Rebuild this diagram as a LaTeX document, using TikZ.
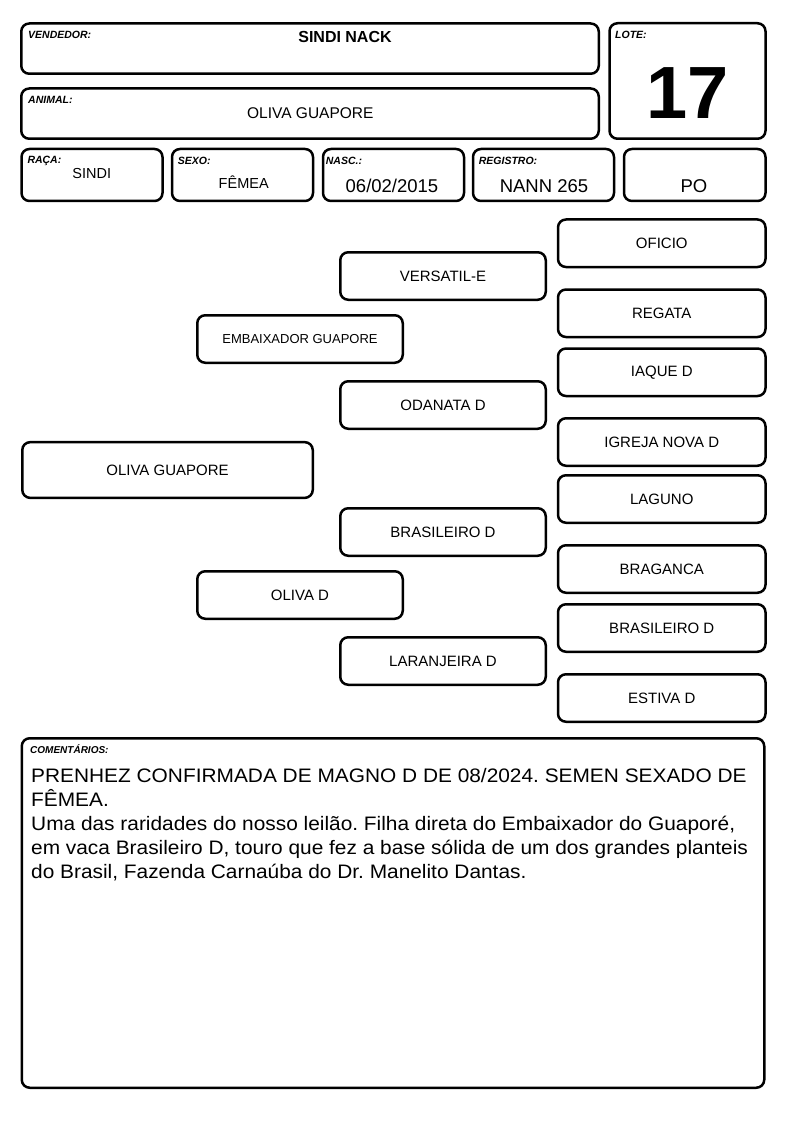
\documentclass[tikz,border=0pt]{standalone}
\usepackage{fontspec}
\setmainfont{Liberation Sans}
\newfontfamily\cmtfont{Liberation Sans}[FakeStretch=1.07]
\newcommand{\fs}[1]{\fontsize{#1}{#1}\selectfont}
\frenchspacing
\tikzset{
  field/.style={draw, line width=2.5pt, rounded corners=8pt, outer sep=0pt, inner sep=0pt, anchor=north west},
  tag/.style={anchor=base west, inner sep=0pt, font=\fs{10.5}\bfseries\itshape},
  val/.style={anchor=base, inner sep=0pt, font=\fs{18.5}},
  ped/.style={draw, line width=2.5pt, rounded corners=8pt, inner sep=0pt, minimum width=205.5pt, minimum height=47.5pt, font=\fs{15}},
  pedr/.style={ped, minimum width=207.5pt},
}
\begin{document}
\begin{tikzpicture}[x=1pt,y=-1pt]
\useasboundingbox (0,0) rectangle (794,1123);
% header fields
\node[field, minimum width=577.5pt, minimum height=50.25pt] (vendedor) at (21.25,23.5) {};
\node[field, minimum width=577.5pt, minimum height=50.25pt] (animal) at (21.25,88.5) {};
\node[field, minimum width=156pt, minimum height=115.5pt] (lote) at (609.5,23.25) {};
\node[field, minimum width=141pt, minimum height=52pt] (raca) at (21.5,149) {};
\node[field, minimum width=141pt, minimum height=52pt] (sexo) at (172,149) {};
\node[field, minimum width=141pt, minimum height=52pt] (nasc) at (323,149) {};
\node[field, minimum width=141pt, minimum height=52pt] (registro) at (473,149) {};
\node[field, minimum width=141.5pt, minimum height=52pt] (po) at (624,149) {};
\node[tag] (tvendedor) at (28,39) {VENDEDOR:};
\node[tag] (tanimal) at (28,103.7) {ANIMAL:};
\node[tag] (tlote) at (615,39) {LOTE:};
\node[tag] (traca) at (27.3,163.3) {RAÇA:};
\node[tag] (tsexo) at (177.7,165) {SEXO:};
\node[tag] (tnasc) at (325.7,165) {NASC.:};
\node[tag] (tregistro) at (478.7,165) {REGISTRO:};
\node[val, font=\fs{16}\bfseries] (vvendedor) at (345,42.7) {SINDI NACK};
\node[val, font=\fs{15.5}] (vanimal) at (310.3,119) {OLIVA GUAPORE};
\node[val, font=\fs{74}\bfseries] (vlote) at (687.5,118.3) {17};
\node[val, font=\fs{14.5}] (vraca) at (91.7,178.3) {SINDI};
\node[val, font=\fs{14.5}] (vsexo) at (243.7,189) {FÊMEA};
\node[val] (vnasc) at (392,192.3) {06/02/2015};
\node[val] (vregistro) at (544,192.3) {NANN 265};
\node[val] (vpo) at (694,192.3) {PO};
% pedigree
\node[ped, minimum width=290.5pt, minimum height=55.75pt] (g1) at (167.5,470) {OLIVA GUAPORE};
\node[ped, font=\fs{13}] (g2a) at (300,339) {EMBAIXADOR GUAPORE};
\node[ped] (g2b) at (300,595) {OLIVA D};
\node[ped] (g3a) at (443,276) {VERSATIL-E};
\node[ped] (g3b) at (443,405) {ODANATA D};
\node[ped] (g3c) at (443,532) {BRASILEIRO D};
\node[ped] (g3d) at (443,661) {LARANJEIRA D};
\node[pedr] (g4a) at (661.75,243.25) {OFICIO};
\node[pedr] (g4b) at (661.75,313.25) {REGATA};
\node[pedr] (g4c) at (661.75,372.25) {IAQUE D};
\node[pedr] (g4d) at (661.75,442) {IGREJA NOVA D};
\node[pedr] (g4e) at (661.75,499) {LAGUNO};
\node[pedr] (g4f) at (661.75,569) {BRAGANCA};
\node[pedr] (g4g) at (661.75,628) {BRASILEIRO D};
\node[pedr] (g4h) at (661.75,698) {ESTIVA D};
% comments
\node[field, minimum width=742.5pt, minimum height=349.5pt] (comentarios) at (21.75,738.25) {};
\node[tag, font=\fs{10}\bfseries\itshape] (tcomentarios) at (30,753.3) {COMENTÁRIOS:};
\node[anchor=north west, inner sep=0pt, align=left, font=\cmtfont\fontsize{19.5}{24}\selectfont] (vcomentarios) at (31,767.7)
  {PRENHEZ CONFIRMADA DE MAGNO D DE 08/2024. SEMEN SEXADO DE\\
   FÊMEA.\\
   Uma das raridades do nosso leilão. Filha direta do Embaixador do Guaporé,\\
   em vaca Brasileiro D, touro que fez a base sólida de um dos grandes planteis\\
   do Brasil, Fazenda Carnaúba do Dr. Manelito Dantas.};
\end{tikzpicture}
\end{document}
